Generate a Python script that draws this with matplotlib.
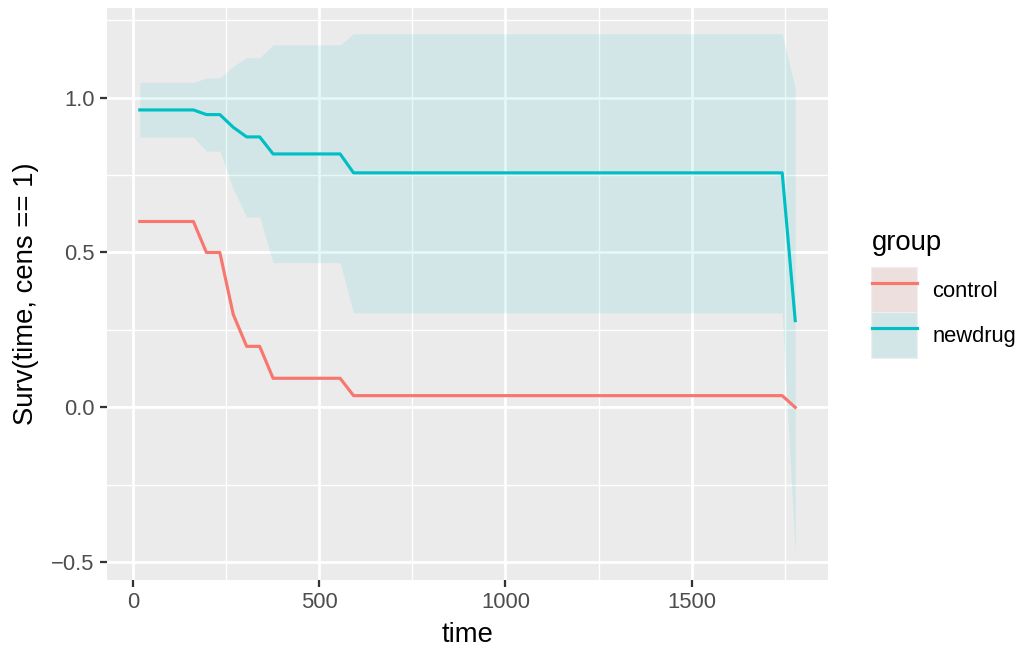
"""Survival curves with confidence ribbon, ggplot-like look"""
import matplotlib
matplotlib.use('Agg')
import matplotlib.pyplot as plt
from matplotlib.lines import Line2D
from matplotlib.patches import Patch
from matplotlib.legend_handler import HandlerTuple

plt.rcParams['font.family'] = ['Liberation Sans', 'DejaVu Sans']

# values
time = [18, 162, 197, 233, 269, 305, 340, 376, 556, 592, 1743, 1778]
control_surv = [0.60, 0.60, 0.50, 0.50, 0.30, 0.197, 0.197, 0.094, 0.094, 0.038, 0.038, 0.0]
newdrug_surv = [0.96, 0.96, 0.945, 0.945, 0.904, 0.873, 0.873, 0.818, 0.818, 0.757, 0.757, 0.28]
newdrug_lower = [0.872, 0.872, 0.827, 0.827, 0.705, 0.614, 0.614, 0.467, 0.467, 0.305, 0.305, -0.474]
newdrug_upper = [1.049, 1.049, 1.063, 1.063, 1.101, 1.129, 1.129, 1.170, 1.170, 1.206, 1.206, 1.03]

groups = ['control', 'newdrug']
colors = {'control': '#F8766D', 'newdrug': '#00BFC4'}
x_ticks = [0, 500, 1000, 1500]
x_minor = [250, 750, 1250, 1750]
y_ticks = [-0.5, 0.0, 0.5, 1.0]
y_tick_labels = ['\u22120.5', '0.0', '0.5', '1.0']
y_minor = [-0.25, 0.25, 0.75, 1.25]

DPI = 180
W, H = 1029, 652
fig = plt.figure(figsize=(W / DPI, H / DPI), dpi=DPI)
ax = fig.add_axes([107 / W, 1 - 580 / H, (828 - 107) / W, (580 - 8) / H])
ax.set_facecolor('#EBEBEB')
for spine in ax.spines.values():
    spine.set_visible(False)

ax.fill_between(time, newdrug_lower, newdrug_upper, color=colors['newdrug'],
                alpha=0.1, linewidth=0, zorder=2)
ax.plot(time, control_surv, color=colors['control'], lw=1.25, zorder=3)
ax.plot(time, newdrug_surv, color=colors['newdrug'], lw=1.25, zorder=3)

ax.set_xlim(-70, 1866)
ax.set_ylim(-0.557, 1.289)
ax.set_xticks(x_ticks)
ax.set_xticks(x_minor, minor=True)
ax.set_yticks(y_ticks)
ax.set_yticklabels(y_tick_labels)
ax.set_yticks(y_minor, minor=True)
ax.grid(which='major', color='white', lw=1.1, zorder=1)
ax.grid(which='minor', color='white', lw=0.55, zorder=1)
ax.set_axisbelow(True)
ax.tick_params(which='major', length=2.75, width=0.9, color='#333333',
               labelsize=8.8, labelcolor='#4D4D4D', pad=2.2)
ax.tick_params(which='minor', length=0)

fig.text(467.5 / W, 1 - 642 / H, 'time', fontsize=11, ha='center', va='baseline')
fig.text(26 / W, 1 - 294 / H, 'Surv(time, cens == 1)', fontsize=11,
         ha='center', va='center', rotation=90)

# legend: title drawn apart so the gap to the keys can be set freely
fig.text(872 / W, 1 - 250 / H, 'group', fontsize=11, ha='left', va='baseline')
handles = []
for g in groups:
    base = Patch(facecolor='#EBEBEB', edgecolor='#EEEEEE', linewidth=0.8)
    tint = Patch(facecolor=colors[g], alpha=0.1, edgecolor='none')
    line = Line2D([], [], color=colors[g], lw=1.25)
    handles.append((base, tint, line))
leg = fig.legend(handles, groups, handler_map={tuple: HandlerTuple(ndivide=1, pad=0)},
                 loc='upper left', bbox_to_anchor=(872 / W, 1 - 268 / H),
                 frameon=False, fontsize=8.8,
                 handlelength=2.05, handleheight=2.78, labelspacing=0.0,
                 handletextpad=0.7, borderpad=0, borderaxespad=0)

fig.savefig('out.png', dpi=DPI)
plt.close(fig)
